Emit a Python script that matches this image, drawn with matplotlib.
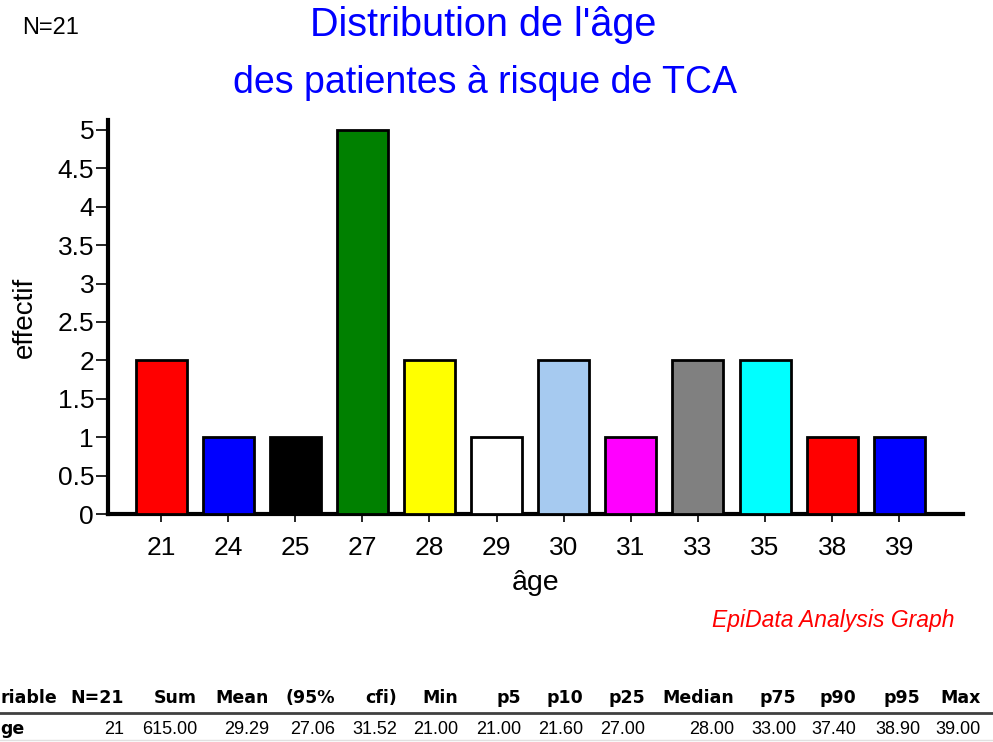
import matplotlib
matplotlib.use("Agg")
import matplotlib.pyplot as plt
from matplotlib import font_manager

ages = ["21", "24", "25", "27", "28", "29", "30", "31", "33", "35", "38", "39"]
counts = [2, 1, 1, 5, 2, 1, 2, 1, 2, 2, 1, 1]
colors = ["#FF0000", "#0000FF", "#000000", "#008000", "#FFFF00", "#FFFFFF",
          "#A6CAF0", "#FF00FF", "#808080", "#00FFFF", "#FF0000", "#0000FF"]
yticks = [0, 0.5, 1, 1.5, 2, 2.5, 3, 3.5, 4, 4.5, 5]

stat_headers = ["riable", "N=21", "Sum", "Mean", "(95%", "cfi)", "Min", "p5", "p10",
                "p25", "Median", "p75", "p90", "p95", "Max"]
stat_values = ["ge", "21", "615.00", "29.29", "27.06", "31.52", "21.00", "21.00",
               "21.60", "27.00", "28.00", "33.00", "37.40", "38.90", "39.00"]

names = {f.name for f in font_manager.fontManager.ttflist}
sans = "Liberation Sans" if "Liberation Sans" in names else "DejaVu Sans"
narrow = "Liberation Sans Narrow" if "Liberation Sans Narrow" in names else sans
plt.rcParams['font.family'] = [sans, 'DejaVu Sans']

W, H = 993, 742
fig = plt.figure(figsize=(W / 100, H / 100), dpi=100)
ax = fig.add_axes([108 / W, 1 - 514 / H, (963 - 108) / W, (514 - 120) / H])

x = list(range(len(ages)))
ax.bar(x, counts, width=0.76, color=colors, edgecolor="black", linewidth=2, zorder=3)
ax.set_xlim(-0.79, 11.95)
ax.set_ylim(0, 5.13)
ax.set_xticks(x)
ax.set_xticklabels(ages)
ax.set_yticks(yticks)
ax.set_yticklabels([f"{v:g}" for v in yticks])
ax.tick_params(axis="y", direction="out", length=9, width=1.2, labelsize=19, pad=1)
ax.tick_params(axis="x", direction="out", length=6, width=1.2, labelsize=19, pad=10)
for s in ["top", "right"]:
    ax.spines[s].set_visible(False)
for s in ["left", "bottom"]:
    ax.spines[s].set_linewidth(3)
ax.set_xlabel("âge", fontsize=20.5, labelpad=7)
ax.set_ylabel("effectif", fontsize=20, labelpad=14)

fig.text(483 / W, 1 - 25 / H, "Distribution de l'âge", color="#0000FF",
         fontsize=28.5, ha="center", va="center")
fig.text(485 / W, 1 - 83 / H, "des patientes à risque de TCA", color="#0000FF",
         fontsize=27, ha="center", va="center")
fig.text(22 / W, 1 - 28 / H, "N=21", fontsize=17, ha="left", va="center")
fig.text(955 / W, 1 - 620 / H, "EpiData Analysis Graph", color="#FF0000",
         fontsize=16.5, style="italic", ha="right", va="center")

rights = [57, 124, 197, 269, 335, 397, 458, 521, 583, 645, 734, 796, 856, 920, 981]
for i, (hd, vl, r) in enumerate(zip(stat_headers, stat_values, rights)):
    if i == 0:
        fig.text(0 / W, 1 - 698 / H, hd, fontsize=12.5, fontweight="bold",
                 family="DejaVu Sans", ha="left", va="center")
        fig.text(0 / W, 1 - 729 / H, vl, fontsize=12.5, fontweight="bold",
                 family="DejaVu Sans", ha="left", va="center")
    else:
        fig.text(r / W, 1 - 698 / H, hd, fontsize=12.5, fontweight="bold",
                 family="DejaVu Sans", ha="right", va="center")
        fig.text(r / W, 1 - 729 / H, vl, fontsize=13, family=narrow, ha="right", va="center")

fig.add_artist(plt.Line2D([0, 1], [1 - 713 / H, 1 - 713 / H], color="#404040", linewidth=2))
fig.add_artist(plt.Line2D([0, 1], [1 - 740 / H, 1 - 740 / H], color="#E0E0E0", linewidth=1))

fig.savefig("out.png", dpi=100)
